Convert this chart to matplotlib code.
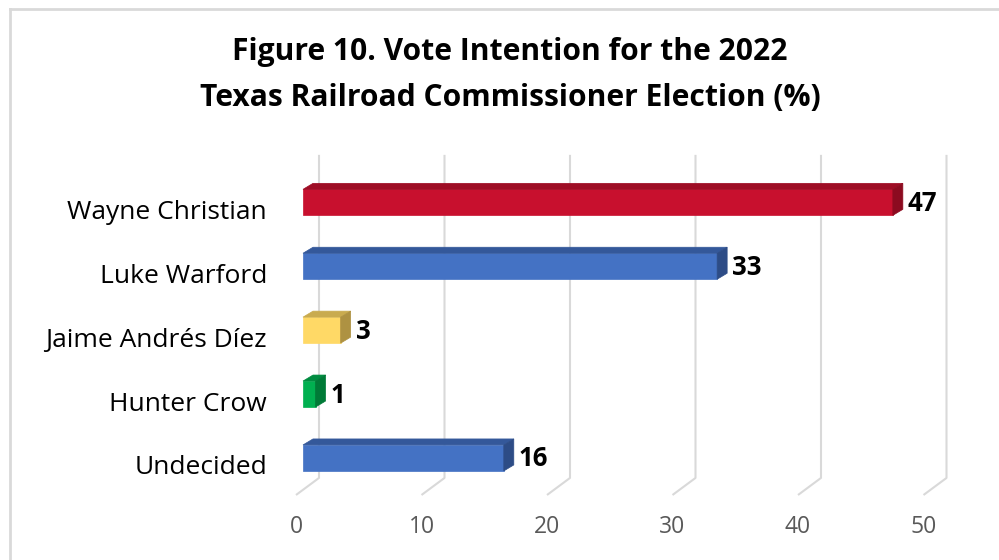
import matplotlib
matplotlib.use("Agg")
import matplotlib.pyplot as plt
import matplotlib.transforms as mtransforms
from matplotlib.patches import Polygon
from matplotlib.lines import Line2D
import numpy as np

# Poll results (%)
candidates = ["Wayne Christian", "Luke Warford", "Jaime Andrés Díez", "Hunter Crow", "Undecided"]
shares = [47, 33, 3, 1, 16]
front_colors = ["#C8102E", "#4472C4", "#FFD966", "#00B050", "#4472C4"]
top_colors = ["#9E0D25", "#34589A", "#C9AB4F", "#008C40", "#34589A"]
side_colors = ["#8C0B20", "#2D4C86", "#AE9242", "#007A37", "#2D4C86"]
x_ticks = [0, 10, 20, 30, 40, 50]
title_lines = ["Figure 10. Vote Intention for the 2022",
               "Texas Railroad Commissioner Election (%)"]

FONT = ["Open Sans", "DejaVu Sans"]
W, H, DPI = 999, 560, 100

fig = plt.figure(figsize=(W / DPI, H / DPI), dpi=DPI)
fig.patch.set_facecolor("white")

# plot area (pixel placement of the 3-D floor/wall frame)
px_per_unit = 12.55
px_per_cat = 63.9
x0_px, xmin, xmax = 303.0, -2.0, 53.0
left_px = x0_px + xmin * px_per_unit
width_px = (xmax - xmin) * px_per_unit
ymin_d, ymax_d = -0.743, 4.58
bottom_px = 495.0
height_px = (ymax_d - ymin_d) * px_per_cat
ax = fig.add_axes([left_px / W, (H - bottom_px) / H, width_px / W, height_px / H])
ax.set_xlim(xmin, xmax)
ax.set_ylim(ymax_d, ymin_d)
ax.set_facecolor("none")
for s in ax.spines.values():
    s.set_visible(False)

# depth geometry (data units)
wall_dx = 16 / px_per_unit      # back wall offset from bar front
floor_dx = -7 / px_per_unit     # front edge of floor
wall_bottom = 4 + 20 / px_per_cat
bar_h = 26 / px_per_cat
depth_dx = 10 / px_per_unit
depth_dy = 6 / px_per_cat

grid_col = "#D9D9D9"
for v in x_ticks:
    ax.plot([v + wall_dx, v + wall_dx, v + floor_dx],
            [ymin_d, wall_bottom, ymax_d],
            color=grid_col, lw=1.5, solid_capstyle="butt", zorder=1, clip_on=False)

ypos = np.arange(len(candidates))
ax.barh(ypos, shares, height=bar_h, color=front_colors, zorder=3,
        edgecolor=front_colors, linewidth=0.5)

for y, v, tc, sc in zip(ypos, shares, top_colors, side_colors):
    top = y - bar_h / 2
    bot = y + bar_h / 2
    ax.add_patch(Polygon([(0, top), (v, top), (v + depth_dx, top - depth_dy),
                          (depth_dx, top - depth_dy)], closed=True,
                         facecolor=tc, edgecolor=tc, lw=0.5, zorder=3))
    ax.add_patch(Polygon([(v, top), (v, bot), (v + depth_dx, bot - depth_dy),
                          (v + depth_dx, top - depth_dy)], closed=True,
                         facecolor=sc, edgecolor=sc, lw=0.5, zorder=3))
    lbl_tr = mtransforms.offset_copy(ax.transData, fig=fig, x=15, y=-1, units="dots")
    ax.text(v, y, f"{v}", transform=lbl_tr, ha="left", va="center",
            fontsize=18.5, fontweight="bold", family=FONT, color="black", zorder=4)

# category labels
ax.set_yticks(ypos)
ax.set_yticklabels(candidates, family=FONT, fontsize=19, color="black")
ax.tick_params(axis="y", length=0, pad=11 * 72 / DPI)
shift_y = mtransforms.ScaledTranslation(0, -7 / DPI, fig.dpi_scale_trans)
for t in ax.get_yticklabels():
    t.set_transform(t.get_transform() + shift_y)

# value axis labels on the front edge of the floor
ax.set_xticks(x_ticks)
ax.set_xticklabels([str(v) for v in x_ticks], family=FONT, fontsize=16.5, color="#595959")
ax.tick_params(axis="x", length=0, pad=20 * 72 / DPI)
shift_x = mtransforms.ScaledTranslation(-7 / DPI, 0, fig.dpi_scale_trans)
for t in ax.get_xticklabels():
    t.set_transform(t.get_transform() + shift_x)

for line, yc in zip(title_lines, [52, 98]):
    fig.text(510 / W, 1 - yc / H, line, ha="center", va="center", family=FONT,
             fontsize=21.6, fontweight="bold")

# chart frame
fc = "#D9D9D9"
fig.add_artist(Line2D([9.5 / W, 9.5 / W], [0, 1 - 8.5 / H], color=fc, lw=2, transform=fig.transFigure))
fig.add_artist(Line2D([9.5 / W, 1], [1 - 8.5 / H, 1 - 8.5 / H], color=fc, lw=2, transform=fig.transFigure))

fig.savefig("out.png", dpi=DPI, facecolor="white")
